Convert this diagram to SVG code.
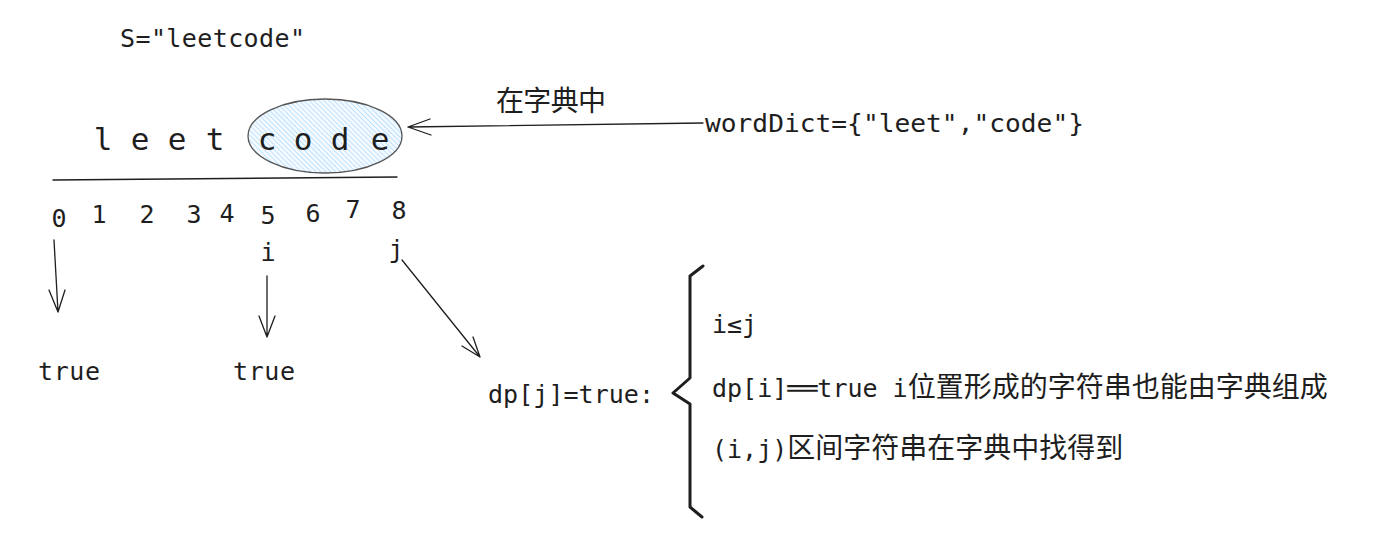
<svg xmlns="http://www.w3.org/2000/svg" width="1388" height="556" viewBox="0 0 1388 556">
<style>
.t{font-family:"DejaVu Sans Mono","Liberation Mono","Noto Sans CJK SC",monospace;font-size:25px;fill:#1e1e1e}
.cjk{font-family:"Noto Sans CJK SC","Noto Sans",sans-serif;font-size:28px;fill:#1e1e1e}
.big{font-size:31px}
.ln{fill:none;stroke:#1e1e1e;stroke-width:1.3;stroke-linecap:round;stroke-linejoin:round}
</style>
<defs>
<pattern id="hatch" patternUnits="userSpaceOnUse" width="3.5" height="3.5" patternTransform="rotate(-45)">
<rect width="3.5" height="3.5" fill="#f4faff"/>
<line x1="0" y1="0" x2="0" y2="3.5" stroke="#a5d8ff" stroke-width="1.3"/>
</pattern>
</defs>
<rect width="1388" height="556" fill="#ffffff"/>
<g id="title"><text class="t" x="120" y="47" textLength="185" lengthAdjust="spacing">S="leetcode"</text></g>
<g id="ellipse"><ellipse cx="325" cy="136" rx="77" ry="37" fill="url(#hatch)" stroke="#555" stroke-width="1.3"/></g>
<g id="word" class="t big" text-anchor="middle">
<text x="103" y="150">l</text><text x="140" y="150">e</text><text x="177" y="150">e</text><text x="215" y="150">t</text>
<text x="267" y="150">c</text><text x="303" y="150">o</text><text x="340" y="150">d</text><text x="380" y="150">e</text>
</g>
<g id="indices" class="t" text-anchor="middle">
<text x="59" y="227">0</text><text x="99" y="223">1</text><text x="147" y="223">2</text><text x="194" y="223">3</text><text x="227" y="222">4</text><text x="268" y="224">5</text><text x="313" y="222">6</text><text x="353" y="218">7</text><text x="399" y="219">8</text>
<text x="268" y="261">i</text><text x="396" y="258">j</text>
</g>
<g id="trues" class="t">
<text x="38" y="380" textLength="62">true</text>
<text x="233" y="380" textLength="62">true</text>
</g>
<g id="dictlabel"><text class="cjk" x="496" y="111" textLength="110">在字典中</text></g>
<g id="dict"><text class="t" x="705" y="132" textLength="379" lengthAdjust="spacingAndGlyphs">wordDict={"leet","code"}</text></g>
<g id="dp"><text class="t" x="488" y="403" textLength="166">dp[j]=true:</text></g>
<g id="cond1"><text class="t" x="712" y="333">i≤j</text></g>
<g id="cond2"><text class="t" x="712" y="397">dp[i]══true i<tspan class="cjk" font-size="28.5">位置形成的字符串也能由字典组成</tspan></text></g>
<g id="cond3"><text class="t" x="712" y="458">(i,j)<tspan class="cjk" font-size="28.5">区间字符串在字典中找得到</tspan></text></g>
<g id="connectors">
<path class="ln" d="M53 180 L397 177"/>
<path class="ln" d="M703 123 L408 127 M430 119 L408 127 L431 135"/>
<path class="ln" d="M54 240 L58 312 M49 290 L58 312 L65 290"/>
<path class="ln" d="M267 276 L267 337 M259 316 L267 337 L275 316"/>
<path class="ln" d="M402 260 L480 357 M462 346 L480 357 L473 337"/>
<path d="M703 266 L690 276 L690 378 L673 393 L690 404 L690 507 L702 517" fill="none" stroke="#1e1e1e" stroke-width="3" stroke-linejoin="round" stroke-linecap="round"/>
</g>
</svg>
